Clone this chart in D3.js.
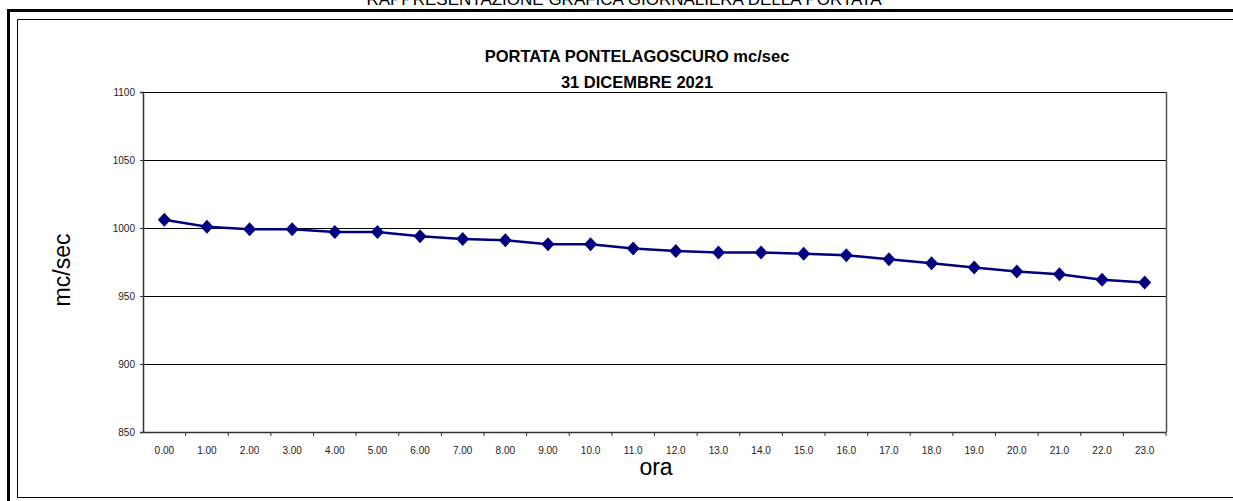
<!DOCTYPE html>
<html>
<head>
<meta charset="utf-8">
<script src="https://cdn.jsdelivr.net/npm/d3@7"></script>
<style>
  body { margin: 0; background: #fff; }
  svg { display: block; font-family: Arial, "Liberation Sans", sans-serif; }
</style>
</head>
<body>
<div id="chart"></div>
<script>
// hourly discharge readings (mc/sec)
const hours = ["0.00", "1.00", "2.00", "3.00", "4.00", "5.00", "6.00", "7.00", "8.00", "9.00",
  "10.0", "11.0", "12.0", "13.0", "14.0", "15.0", "16.0", "17.0", "18.0", "19.0",
  "20.0", "21.0", "22.0", "23.0"];
const portata = [1006, 1001, 999, 999, 997, 997, 994, 992, 991, 988,
  988, 985, 983, 982, 982, 981, 980, 977, 974, 971,
  968, 966, 962, 960];
const yTicks = [850, 900, 950, 1000, 1050, 1100];

const width = 1233, height = 501;
const plot = {left: 143, right: 1166, top: 92, bottom: 432};

let svg = d3.select("#chart")
    .append("svg")
    .attr("width", width)
    .attr("height", height);

// page frame (thick outer, thin inner)
svg.append("path")
    .attr("d", `M8.5,${height} V10.5 H${width + 5}`)
    .attr("fill", "none")
    .attr("stroke", "#000")
    .attr("stroke-width", 3);
svg.append("path")
    .attr("d", `M${width + 5},19.5 H17.5 V497.5 H${width + 5}`)
    .attr("fill", "none")
    .attr("stroke", "#000")
    .attr("stroke-width", 1);

// page heading, cut off at the top in the original
svg.append("text")
    .attr("x", 624).attr("y", 5)
    .style("text-anchor", "middle")
    .style("font-size", "17px")
    .text("RAPPRESENTAZIONE GRAFICA GIORNALIERA DELLA PORTATA");

let x = d3.scaleBand()
    .domain(hours)
    .range([plot.left, plot.right])
    .padding(0);

let y = d3.scaleLinear()
    .domain([850, 1100])
    .range([plot.bottom, plot.top]);

// gridlines
svg.append("g").selectAll("line").data(yTicks.filter(d => d > 850))
    .enter().append("line")
    .attr("x1", plot.left).attr("x2", plot.right)
    .attr("y1", d => Math.round(y(d)) + 0.5)
    .attr("y2", d => Math.round(y(d)) + 0.5)
    .attr("stroke", "#000");

// right border
svg.append("line")
    .attr("x1", plot.right + 0.5).attr("x2", plot.right + 0.5)
    .attr("y1", plot.top).attr("y2", plot.bottom)
    .attr("stroke", "#555")
    .attr("stroke-width", 1.5);

// y axis
let yAxis = svg.append("g")
    .attr("transform", `translate(${plot.left},0)`)
    .call(d3.axisLeft(y).tickValues(yTicks).tickSize(3).tickPadding(5).tickFormat(d3.format("d")));
yAxis.select(".domain").attr("stroke", "#333").attr("stroke-width", 1.5);
yAxis.selectAll(".tick line").attr("stroke", "#333");
yAxis.selectAll("text").style("font-size", "10px").attr("fill", "#222")
    .style("font-family", "Arial, 'Liberation Sans', sans-serif");

// x axis, ticks on band edges
let xAxis = svg.append("g")
    .attr("transform", `translate(0,${plot.bottom})`)
    .call(d3.axisBottom(x).tickSize(0).tickPadding(15));
xAxis.select(".domain").attr("stroke", "#333").attr("stroke-width", 1.5);
xAxis.selectAll("text").style("font-size", "10px").attr("fill", "#222")
    .style("font-family", "Arial, 'Liberation Sans', sans-serif");
svg.append("g").selectAll("line").data(hours)
    .enter().append("line")
    .attr("x1", d => x(d) + x.bandwidth())
    .attr("x2", d => x(d) + x.bandwidth())
    .attr("y1", plot.bottom).attr("y2", plot.bottom + 4)
    .attr("stroke", "#333");

// series line
let line = d3.line()
    .x((d, i) => x(hours[i]) + x.bandwidth() / 2)
    .y(d => y(d));
svg.append("path")
    .datum(portata)
    .attr("d", line)
    .attr("fill", "none")
    .attr("stroke", "#000080")
    .attr("stroke-width", 2.5);

// diamond markers
svg.append("g").selectAll("path").data(portata)
    .enter().append("path")
    .attr("transform", (d, i) => `translate(${x(hours[i]) + x.bandwidth() / 2},${y(d)})`)
    .attr("d", "M0,-7 L6.5,0 L0,7 L-6.5,0 Z")
    .attr("fill", "#000080");

// titles
svg.append("text")
    .attr("x", 637).attr("y", 62)
    .style("text-anchor", "middle")
    .style("font-size", "16.5px")
    .style("font-weight", "bold")
    .text("PORTATA PONTELAGOSCURO mc/sec");
svg.append("text")
    .attr("x", 637).attr("y", 88)
    .style("text-anchor", "middle")
    .style("font-size", "16.5px")
    .style("font-weight", "bold")
    .text("31 DICEMBRE 2021");

// axis labels
svg.append("text")
    .attr("transform", "translate(70,270) rotate(-90)")
    .style("text-anchor", "middle")
    .style("font-size", "23px")
    .text("mc/sec");
svg.append("text")
    .attr("x", 656).attr("y", 475)
    .style("text-anchor", "middle")
    .style("font-size", "23px")
    .text("ora");
</script>
</body>
</html>
